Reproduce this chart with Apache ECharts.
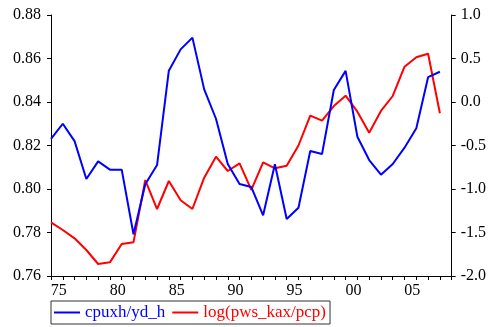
<!DOCTYPE html>
<html>
<head>
<meta charset="utf-8">
<script src="https://cdn.jsdelivr.net/npm/echarts@6/dist/echarts.min.js"></script>
<style>
html,body{margin:0;padding:0;background:#fff;}
#chart{width:489px;height:327px;}
</style>
</head>
<body>
<div id="chart"></div>
<script>
var years = [1974,1975,1976,1977,1978,1979,1980,1981,1982,1983,1984,1985,1986,1987,1988,1989,1990,
  1991,1992,1993,1994,1995,1996,1997,1998,1999,2000,2001,2002,2003,2004,2005,2006,2007];
var cpuxhYdH = [0.823,0.830,0.822,0.8046,0.8127,0.8089,0.8089,0.7792,0.8022,0.811,0.8544,0.8642,0.8696,
  0.8458,0.8323,0.8115,0.8023,0.8009,0.7879,0.8114,0.7862,0.7914,0.8175,0.8161,0.8455,0.8543,0.824,
  0.8133,0.8066,0.8115,0.819,0.8279,0.8514,0.8539];
var logPwsKaxPcp = [-1.383,-1.471,-1.567,-1.701,-1.862,-1.843,-1.632,-1.613,-0.897,-1.230,-0.908,-1.130,
  -1.230,-0.870,-0.629,-0.793,-0.705,-1.011,-0.693,-0.762,-0.732,-0.50,-0.157,-0.215,-0.046,0.073,
  -0.111,-0.353,-0.103,0.069,0.406,0.514,0.555,-0.130];
var seriesNames = ['cpuxh/yd_h', 'log(pws_kax/pcp)'];
var leftTicks = [0.76, 0.88, 0.02];
var rightTicks = [-2.0, 1.0, 0.5];
var xRange = [1974, 2008];

var font = "'Liberation Serif','Times New Roman',serif";
var chart = echarts.init(document.getElementById('chart'), null, {renderer:'canvas'});
function pairs(vals){ return years.map(function(y,i){ return [y, vals[i]]; }); }
chart.setOption({
  animation:false,
  backgroundColor:'#fff',
  textStyle:{fontFamily:font},
  grid:{left:51, right:37, top:15, bottom:51, containLabel:false},
  xAxis:{
    type:'value', min:xRange[0], max:xRange[1], interval:1,
    axisLine:{show:true, onZero:false, lineStyle:{color:'#000', width:1}},
    axisTick:{show:true, inside:false, length:4, lineStyle:{color:'#000'}},
    splitLine:{show:false},
    axisLabel:{
      margin:7, color:'#000', fontFamily:font, fontSize:16, interval:0, hideOverlap:false,
      formatter:function(v){ return (v % 5 === 0) ? '{a|' + String(v).slice(2) + '}' : ''; },
      rich:{a:{fontFamily:font, fontSize:16, color:'#000', padding:[0,8,0,0]}},
      showMinLabel:true, showMaxLabel:true
    }
  },
  yAxis:[{
    type:'value', position:'left', min:leftTicks[0], max:leftTicks[1], interval:leftTicks[2],
    axisLine:{show:true, onZero:false, lineStyle:{color:'#000', width:1}},
    axisTick:{show:true, inside:false, length:4, lineStyle:{color:'#000'}},
    splitLine:{show:false},
    axisLabel:{margin:10, color:'#000', fontFamily:font, fontSize:16,
      formatter:function(v){ return v.toFixed(2); }}
  },{
    type:'value', position:'right', min:rightTicks[0], max:rightTicks[1], interval:rightTicks[2],
    axisLine:{show:true, onZero:false, lineStyle:{color:'#000', width:1}},
    axisTick:{show:true, inside:false, length:4, lineStyle:{color:'#000'}},
    splitLine:{show:false},
    axisLabel:{margin:9, color:'#000', fontFamily:font, fontSize:16,
      formatter:function(v){ return v.toFixed(1); }}
  }],
  legend:{
    left:51, top:301, orient:'horizontal',
    borderColor:'#333', borderWidth:1, backgroundColor:'#fff',
    padding:[3,4,3,3], itemWidth:26, itemHeight:16, itemGap:7, itemTextGap:4,
    textStyle:{fontFamily:font, fontSize:17, lineHeight:17},
    data:[
      {name:seriesNames[0], icon:'path://M0,7 L26,7 L26,9 L0,9 Z', itemStyle:{color:'#0000ff'}, textStyle:{color:'#0000ff'}},
      {name:seriesNames[1], icon:'path://M0,7 L26,7 L26,9 L0,9 Z', itemStyle:{color:'#ff0000'}, textStyle:{color:'#ff0000'}}
    ]
  },
  series:[{
    name:seriesNames[0], type:'line', yAxisIndex:0, data:pairs(cpuxhYdH),
    symbol:'none', color:'#0000ff', lineStyle:{color:'#0000ff', width:2}, z:3
  },{
    name:seriesNames[1], type:'line', yAxisIndex:1, data:pairs(logPwsKaxPcp),
    symbol:'none', color:'#ff0000', lineStyle:{color:'#ff0000', width:2}, z:2
  }]
});
</script>
</body>
</html>
